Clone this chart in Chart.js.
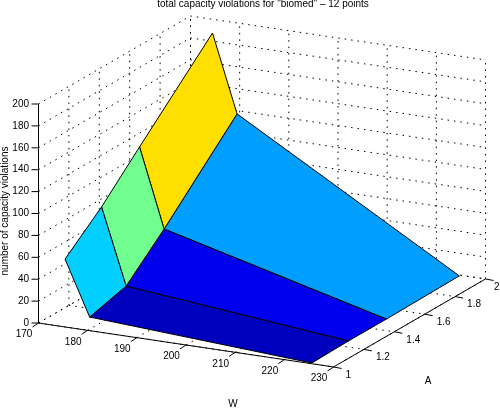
<!DOCTYPE html>
<html>
<head>
<meta charset="utf-8">
<style>html,body{margin:0;padding:0;background:#fff}#wrap{width:500px;height:408px;position:relative}canvas{display:block}</style>
<script src="https://cdn.jsdelivr.net/npm/chart.js@4"></script>
</head>
<body>
<div id="wrap"><canvas id="c" width="500" height="408"></canvas></div>
<script>
// ---- data ----
const titleText = 'total capacity violations for "biomed" \u2013 12 points';
const zLabel = 'number of capacity violations';
const wLabel = 'W';
const aLabel = 'A';
const wTicks = [170,180,190,200,210,220,230];
const aTicks = [1,1.2,1.4,1.6,1.8,2];
const zTicks = [0,20,40,60,80,100,120,140,160,180,200];
const aTickText = ['1','1.2','1.4','1.6','1.8','2'];

const surfaceW = [175.4,180.4,225.6];
const surfaceA = [1,1.24,1.49,1.97];
const zAtW1 = [62,90.3,125,190.5];
const zAtW2 = [12.4,21.4,53.4,120];
const zAtW3 = [0.7,1.5,1.4,2.3];
const surfaceZ = [zAtW1,zAtW2,zAtW3];

// quad colours: [W cell][A cell]
const colsW1 = ['#00CFFF','#70FF8F','#FFDF00'];
const colsW2 = ['#0000BF','#0000EF','#009FFF'];
const quadColors = [colsW1,colsW2];

// ---- orthographic view of the 3D box ----
const origin = {x:38.5,y:323};
const perW = {x:4.917,y:0.733};
const perA = {x:152,y:-88};
const perZ = -1.095;
function project(w,a,z){
  return {
    x: origin.x + (w-170)*perW.x + (a-1)*perA.x,
    y: origin.y + (w-170)*perW.y + (a-1)*perA.y + z*perZ
  };
}
function lineDs(pts,opt){
  return Object.assign({data:pts,showLine:true,pointRadius:0,borderColor:'#000',borderWidth:1,
    tension:0,fill:false,clip:false},opt||{});
}
const dotted = {borderDash:[1.5,5],borderWidth:1};
const ds = [];
// walls and floor grid
for(const z of zTicks){
  ds.push(lineDs([project(170,1,z),project(170,2,z),project(230,2,z)],dotted));
}
for(const a of aTicks){
  ds.push(lineDs([project(170,a,0),project(170,a,200)],dotted));
  ds.push(lineDs([project(170,a,0),project(230,a,0)],dotted));
}
for(const w of wTicks){
  ds.push(lineDs([project(w,2,0),project(w,2,200)],dotted));
  ds.push(lineDs([project(w,1,0),project(w,2,0)],dotted));
}
// surface, back-to-front by painter's order
for(let i=surfaceW.length-2;i>=0;i--){
  for(let j=surfaceA.length-2;j>=0;j--){
    const p=[project(surfaceW[i],surfaceA[j],surfaceZ[i][j]),
             project(surfaceW[i+1],surfaceA[j],surfaceZ[i+1][j]),
             project(surfaceW[i+1],surfaceA[j+1],surfaceZ[i+1][j+1]),
             project(surfaceW[i],surfaceA[j+1],surfaceZ[i][j+1])];
    p.push(p[0]);
    ds.push(lineDs(p,{fill:'shape',backgroundColor:quadColors[i][j]}));
  }
}
// solid axes
ds.push(lineDs([project(170,1,0),project(170,1,200)]));
ds.push(lineDs([project(170,1,0),project(230,1,0)]));
ds.push(lineDs([project(230,1,0),project(230,2,0)]));
// tick marks
for(const z of zTicks){const p=project(170,1,z);ds.push(lineDs([p,{x:p.x-7,y:p.y}]));}
for(const w of wTicks){const p=project(w,1,0);ds.push(lineDs([p,{x:p.x-6,y:p.y+4}]));}
for(const a of aTicks){const p=project(230,a,0);ds.push(lineDs([p,{x:p.x+8,y:p.y+1.5}]));}
ds.forEach((d,i)=>{d.order=ds.length-i;});

const textPlugin = {
  id:'axisText',
  afterDraw(chart){
    const c=chart.ctx,sx=chart.scales.x,sy=chart.scales.y;
    const put=(t,x,y,al)=>{c.textAlign=al||'center';c.fillText(t,sx.getPixelForValue(x),sy.getPixelForValue(y));};
    c.save();
    c.fillStyle='#000';
    c.textBaseline='middle';
    c.font='10px "Liberation Sans"';
    put(titleText,263,4.5);
    zTicks.forEach(z=>{const p=project(170,1,z);put(String(z),p.x-9.5,p.y,'right');});
    wTicks.forEach(w=>{const p=project(w,1,0);put(String(w),p.x-14.5,p.y+11.5);});
    aTicks.forEach((a,i)=>{
      const p=project(230,a,0);
      put(aTickText[i],p.x+(i===aTicks.length-1?8.5:12),p.y+8,'left');
    });
    put(wLabel,233,404);
    put(aLabel,428,381);
    c.translate(sx.getPixelForValue(5),sy.getPixelForValue(211));
    c.rotate(-Math.PI/2);
    c.textAlign='center';
    c.fillText(zLabel,0,0);
    c.restore();
  }
};

new Chart(document.getElementById('c'),{
  type:'scatter',
  data:{datasets:ds},
  options:{
    responsive:false,animation:false,
    layout:{padding:0},
    plugins:{legend:{display:false},tooltip:{enabled:false},title:{display:false}},
    scales:{
      x:{type:'linear',min:0,max:500,display:false},
      y:{type:'linear',min:0,max:408,reverse:true,display:false}
    }
  },
  plugins:[textPlugin]
});
</script>
</body>
</html>
